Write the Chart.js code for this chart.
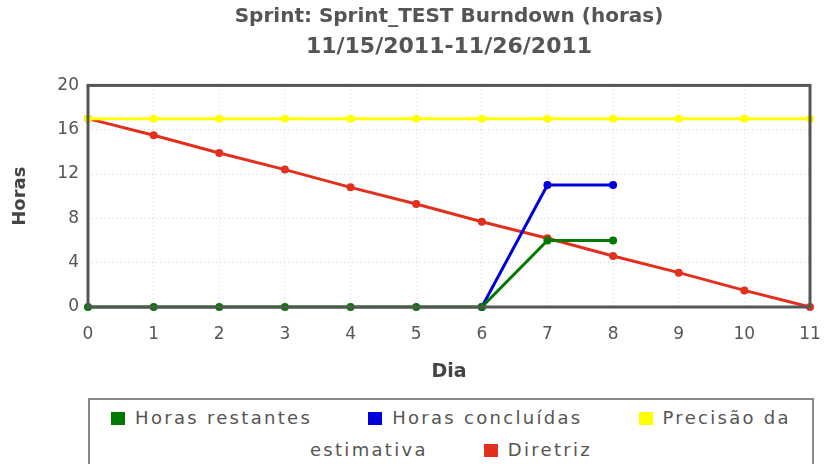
<!DOCTYPE html>
<html>
<head>
<meta charset="utf-8">
<script src="https://cdn.jsdelivr.net/npm/chart.js@4/dist/chart.umd.min.js"></script>
<style>
  body { margin: 0; background: #fff; }
  #wrap { position: relative; width: 824px; height: 464px; overflow: hidden; }
  #box { position: absolute; left: 0; top: 0; width: 824px; height: 395px; }
  #legenda {
    position: absolute; left: 88px; top: 398px; width: 726px; height: 80px;
    border: 2px solid #888; box-sizing: border-box; text-align: center;
    font-family: "DejaVu Sans", sans-serif; font-size: 18px; letter-spacing: 2.3px;
    color: #555; line-height: 32px; padding: 2px 12px 0 12px;
  }
  #legenda .q { display: inline-block; width: 14px; height: 13px; margin-right: 10px; vertical-align: -1px; }
  #legenda .item { margin-right: 48px; }
  #legenda .item:last-child { margin-right: 0; }
</style>
</head>
<body>
<div id="wrap">
  <div id="box"><canvas id="myChart"></canvas></div>
  <div id="legenda"></div>
</div>
<script>
    // Dias do sprint
    const dias = ['0', '1', '2', '3', '4', '5', '6', '7', '8', '9', '10', '11'];
    const ticksHoras = [0, 4, 8, 12, 16, 20];

    const horasRestantes = [0, 0, 0, 0, 0, 0, 0, 6, 6, null, null, null];
    const horasConcluidas = [null, null, null, null, null, null, 0, 11, 11, null, null, null];
    const precisao = [17, 17, 17, 17, 17, 17, 17, 17, 17, 17, 17, 17];
    const diretriz = [17, 15.5, 13.9, 12.4, 10.8, 9.3, 7.7, 6.2, 4.6, 3.1, 1.5, 0];

    const nomes = ['Horas restantes', 'Horas concluídas', 'Precisão da estimativa', 'Diretriz'];
    const cores = ['#007a00', '#0000dd', '#ffff00', '#e3301e'];
    const series = [horasRestantes, horasConcluidas, precisao, diretriz];

    const fonte = '"DejaVu Sans", sans-serif';

    // borda em volta da area do grafico
    const moldura = {
      id: 'moldura',
      afterDatasetsDraw(chart) {
        const a = chart.chartArea;
        const ctx = chart.ctx;
        ctx.save();
        ctx.strokeStyle = '#555';
        ctx.lineWidth = 3;
        ctx.strokeRect(a.left, a.top, a.right - a.left, a.bottom - a.top);
        ctx.restore();
      }
    };

    const datasets = series.map((valores, i) => ({
      label: nomes[i],
      data: valores,
      borderColor: cores[i],
      backgroundColor: cores[i],
      borderWidth: 3,
      pointRadius: 4,
      pointHoverRadius: 4,
      pointBorderWidth: 0,
      tension: 0,
      spanGaps: false,
      clip: 6
    }));

    const ctx = document.getElementById('myChart').getContext('2d');
    const myChart = new Chart(ctx, {
      type: 'line',
      data: { labels: dias, datasets: datasets },
      options: {
        responsive: true,
        maintainAspectRatio: false,
        animation: false,
        layout: { padding: { left: 0, right: 14, top: 0, bottom: 0 } },
        plugins: {
          legend: { display: false },
          tooltip: { enabled: false },
          title: {
            display: true,
            fullSize: false,
            text: 'Sprint: Sprint_TEST Burndown (horas)',
            color: '#555',
            font: { family: fonte, size: 20, weight: 'bold' },
            padding: { top: 5, bottom: 0 }
          },
          subtitle: {
            display: true,
            fullSize: false,
            text: '11/15/2011-11/26/2011',
            color: '#555',
            font: { family: fonte, size: 22, weight: 'bold' },
            padding: { top: 5, bottom: 25 }
          }
        },
        scales: {
          x: {
            offset: false,
            grid: { color: '#d4d4d4', drawTicks: false },
            border: { display: false, dash: [1, 3] },
            ticks: { color: '#555', font: { family: fonte, size: 17 }, padding: 17, maxRotation: 0, autoSkip: false },
            title: { display: true, text: 'Dia', color: '#444', font: { family: fonte, size: 19, weight: 'bold' }, padding: { top: 0, bottom: 12 } },
            afterFit(s) { s.height = 88; s.paddingLeft = 0; s.paddingRight = 0; }
          },
          y: {
            min: 0,
            max: 20,
            afterBuildTicks(s) { s.ticks = ticksHoras.map(v => ({ value: v })); },
            grid: { color: '#d4d4d4', drawTicks: false },
            border: { display: false, dash: [1, 3] },
            ticks: { color: '#555', font: { family: fonte, size: 17 }, padding: 9 },
            title: { display: true, text: 'Horas', color: '#444', font: { family: fonte, size: 18, weight: 'bold' }, padding: { top: 10, bottom: 0 } },
            afterFit(s) { s.width = 88; }
          }
        }
      },
      plugins: [moldura]
    });

    // legenda em html, montada a partir das series
    const leg = document.getElementById('legenda');
    leg.innerHTML = nomes.map((n, i) =>
      '<span class="item"><span class="q" style="background:' + cores[i] + '"></span>' + n + '</span>'
    ).join(' ');
</script>
</body>
</html>
